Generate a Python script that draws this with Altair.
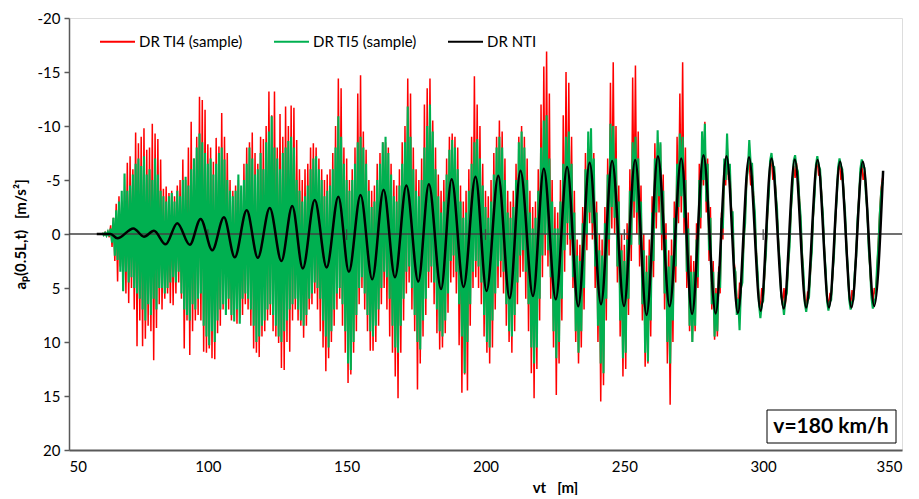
import altair as alt
import pandas as pd

# grid of the two sampled (noisy) series: vt = 62.0 + 0.5 * i  [m]
X0 = 62.0
STEP = 0.5

# DR TI5 (sample) - green
TI5 = [
    -0.1, 0.1, -0.1, 0.15, -0.2, 0.2,                                   # 62
    -0.5, 0.8, -1.5, 2.0, -2.2, 2.4, -3.0, 3.5, -4.0, 5.3, -5.6, 3.5, -4.0, 4.5,   # 65
    -4.5, 4.0, -5.5, 5.0, -6.5, 5.5, -7.0, 6.0, -6.3, 7.0, -7.2, 8.0, -5.5, 6.5, -6.0, 7.5,  # 72
    -5.0, 6.0, -7.0, 7.0, -5.5, 5.0, -4.0, 5.0, -3.5, 5.5, -3.0, 5.0, -3.5, 4.5, -3.8, 4.0, -3.0, 4.5, -4.0, 3.5,  # 80
    -3.5, 5.5, -5.0, 7.0, -5.3, 7.5, -4.5, 8.0, -6.0, 6.5, -7.0, 7.0, -8.0, 6.0, -9.3, 5.5, -8.5, 8.5, -7.5, 9.5,  # 90
    -6.5, 10.3, -7.0, 9.0, -5.5, 10.0, -6.5, 8.0, -7.5, 7.0, -8.0, 6.5, -6.9, 7.5, -5.0, 6.0, -4.0, 7.5, -3.5, 8.1,  # 100
    -4.0, 7.0, -5.5, 8.3, -4.5, 6.0, -5.0, 5.5, -6.5, 6.0, -8.0, 7.0, -7.0, 8.5, -5.5, 10.0, -6.0, 9.5, -7.5, 8.5,  # 110
    -6.0, 8.0, -8.5, 7.0, -9.5, 6.5, -10.9, 7.5, -8.0, 8.5, -7.0, 9.5, -6.0, 10.0, -7.5, 9.0, -8.0, 8.0, -8.6, 7.0,  # 120
    -9.0, 6.5, -8.0, 6.0, -5.0, 7.0, -4.0, 8.0, -3.0, 8.5, -3.5, 7.5, -4.5, 6.0, -6.0, 5.5, -7.0, 4.5, -7.2, 5.0,  # 130
    -6.0, 6.0, -5.0, 8.0, -3.5, 9.5, -4.0, 10.5, -4.5, 9.0, -6.0, 7.0, -8.0, 5.5, -10.9, 5.0, -9.0, 6.5,  # 140
    -6.5, 9.0, -5.0, 12.0, -4.0, 12.6, -5.0, 10.0, -6.5, 7.5, -8.5, 5.0, -9.0, 4.0, -8.0, 5.5, -6.5, 7.5,  # 149
    -4.0, 9.0, -2.5, 9.5, -3.0, 8.5, -5.0, 7.0, -6.5, 5.0, -8.5, 3.5, -9.0, 4.0, -7.5, 6.0, -5.5, 8.5, -3.5, 10.5, -3.0, 11.0, -4.5, 8.5,  # 158
    -6.5, 6.0, -8.5, 3.5, -11.8, 3.0, -9.0, 5.0, -6.0, 7.5, -4.0, 10.0, -3.5, 10.7, -5.0, 8.0, -8.0, 6.0, -10.0, 3.5,  # 170
    -12.0, 3.0, -9.5, 4.5, -6.0, 7.0, -3.5, 9.0, -2.0, 9.5, -3.0, 8.0, -5.5, 5.5, -7.8, 2.5, -8.7, 2.0,  # 180
    -8.0, 3.5, -6.0, 6.5, -3.0, 9.5, -1.5, 12.9, -2.0, 10.0, -4.0, 6.5, -6.5, 3.5, -8.5, 2.5, -8.8, 3.0,  # 189
    -7.0, 4.5, -4.5, 7.5, -2.5, 10.0, -1.5, 10.5, -3.0, 8.0, -5.5, 5.5, -8.0, 3.0, -9.0, 2.5, -8.0, 3.5, -5.0, 6.5,  # 198
    -2.0, 9.0, -1.5, 9.5, -2.5, 7.5, -5.0, 4.5, -8.5, 2.0, -9.5, 1.5, -8.0, 3.5, -5.0, 6.5,  # 208
    -2.0, 10.5, -0.5, 12.0, -1.5, 10.5, -4.0, 6.0, -8.0, 2.0, -10.5, 0.0, -11.0, 1.5, -7.0, 4.0,  # 216
    -3.0, 9.0, -0.5, 11.5, -0.5, 10.0, -3.0, 6.0, -6.5, 1.5, -9.0, -1.0, -9.5, 0.5, -6.5, 4.0,  # 224
    -2.0, 9.0, 2.0, 11.0, 2.5, 9.0, -1.0, 5.0, -6.0, 0.0, -9.5, -2.0, -9.8, -1.0, -7.0, 3.0,  # 232
    -2.0, 8.5, 1.5, 12.0, 2.0, 12.9, -1.0, 6.0, -5.5, 0.5, -10.2, -2.5, -10.0, -1.5, -7.0, 3.0,  # 240
    -3.0, 8.0, 1.5, 11.5, 2.5, 11.0, 0.5, 6.0, -4.0, 1.0, -8.5, -3.0, -9.0, -2.0, -7.0, 1.0,  # 248
    -3.0, 6.5, 1.5, 11.0, 3.5, 11.8, 2.0, 8.0, -2.0, 2.5, -7.0, -2.0, -9.6, -3.5, -8.5, 0.0,  # 256
    -4.0, 5.5, 0.5, 10.0, 3.0, 12.0, 2.0, 8.0, -1.5, 3.0, -6.5, -2.5, -9.3, -3.5, -9.0, -1.5,  # 264
    -5.0, 3.5, -0.5, 8.5, 3.5, 10.0, 3.5, 8.5, 0.5, 4.0, -5.0, -1.5, -9.5, -5.0, -10.2, -3.0,  # 272
    -6.5, 1.5, -1.5, 6.5, 3.5, 9.5, 5.5, 9.0, 3.5, 5.0, -1.5, -0.5, -7.0, -5.0, -9.3, -5.5, -6.5, -2.0,  # 280
    -2.0, 3.0, 3.5, 7.5, 6.0, 8.9, 5.0, 4.5, 0.5, -1.0, -5.0, -6.0, -8.7, -6.5, -6.5, -3.5,  # 289
    -2.0, 1.8, 3.5, 6.5, 7.8, 6.5, 6.2, 3.5, 1.8, -1.8, -3.5, -6.8, -7.5, -6.3, -6.2, -3.8,  # 297
    -2.3, 1.0, 2.7, 5.8, 6.3, 7.5, 6.0, 5.5, 2.8, 1.2, -2.2, -4.0, -6.8, -7.3, -6.2, -5.8,  # 305
    -3.2, -1.6, 1.8, 3.6, 6.4, 7.2, 6.2, 5.9, 3.3, 1.7, -1.7, -3.5, -6.4, -7.2, -6.3, -6.0,  # 313
    -3.5, -1.9, 1.5, 3.3, 6.2, 7.1, 6.3, 6.1, 3.6, 2.0, -1.5, -3.3, -6.2, -7.0, -6.3, -6.0,  # 321
    -3.6, -2.0, 1.4, 3.2, 6.1, 7.0, 6.3, 6.1, 3.6, 2.0, -1.4, -3.2, -6.0, -6.9, -6.2, -6.1,  # 329
    -3.7, -2.2, 1.3, 3.1, 5.9, 6.9, 6.3, 5.9, 3.1, 1.0, -1.8, -3.9, -4.8,  # 337
]

# DR TI4 (sample) - red
TI4 = [
    -0.1, 0.1, -0.15, 0.1, -0.2, 0.3,  # 62
    -0.8, 1.2, -1.5, 2.5, -2.8, 4.4, -3.5, 3.0, -3.0, 5.2, -4.0, 5.5, -6.6, 6.4,  # 65
    -7.2, 5.0, -6.0, 7.0, -9.4, 10.4, -8.4, 8.0, -9.0, 10.4, -9.8, 9.7, -7.8, 8.5, -8.0, 9.0,  # 72
    -10.2, 11.7, -9.3, 8.7, -8.8, 6.5, -6.9, 7.0, -4.2, 6.0, -4.4, 5.5, -3.8, 6.4, -4.0, 6.6, -3.5, 5.5, -4.5, 4.5,  # 80
    -5.0, 6.0, -6.9, 10.6, -5.0, 8.0, -8.0, 11.2, -10.4, 9.0, -7.0, 8.0, -9.0, 7.5, -12.7, 8.0, -12.4, 10.9, -11.5, 11.0,  # 90
    -8.3, 10.6, -8.0, 11.5, -6.7, 11.6, -8.9, 9.2, -8.1, 8.5, -11.2, 7.0, -9.0, 6.4, -7.5, 7.0, -5.0, 8.0, -4.0, 7.5,  # 100
    -4.5, 8.3, -5.0, 7.8, -4.0, 7.5, -6.5, 6.5, -8.0, 7.0, -8.5, 8.5, -9.4, 10.6, -7.5, 11.0, -6.5, 11.4, -9.0, 9.5,  # 110
    -8.8, 9.0, -10.0, 8.0, -13.2, 7.5, -11.0, 9.0, -13.2, 9.5, -8.0, 10.1, -11.1, 12.4, -9.0, 12.6, -11.8, 10.0, -10.0, 10.9,  # 120
    -11.9, 8.0, -11.7, 7.0, -8.7, 8.0, -6.0, 8.5, -5.0, 9.6, -6.0, 8.5, -6.5, 7.0, -8.0, 6.5, -8.4, 5.5, -8.0, 7.0,  # 130
    -7.0, 9.0, -6.0, 10.5, -5.0, 12.7, -5.5, 11.5, -6.0, 10.0, -7.5, 8.5, -10.0, 7.0, -14.4, 6.0, -13.5, 8.5,  # 140
    -8.0, 11.0, -7.0, 13.8, -5.0, 13.0, -6.0, 11.0, -8.0, 9.0, -13.0, 6.5, -14.7, 5.0, -9.5, 7.0, -7.8, 9.0,  # 149
    -5.0, 10.8, -4.0, 10.8, -4.5, 10.0, -6.5, 8.5, -7.5, 6.5, -8.5, 5.0, -8.5, 7.0, -8.0, 9.5, -6.5, 11.0, -5.0, 13.2, -4.5, 15.2, -6.0, 11.0,  # 158
    -8.5, 8.0, -10.0, 5.5, -14.4, 4.5, -13.0, 7.0, -8.0, 9.0, -6.0, 14.4, -5.0, 12.0, -7.0, 9.5, -12.0, 7.5, -13.5, 5.0,  # 170
    -14.4, 4.5, -10.5, 6.5, -8.0, 9.2, -5.5, 10.7, -4.0, 10.5, -5.0, 9.2, -7.0, 7.3, -9.0, 4.5, -9.3, 4.0,  # 180
    -9.0, 5.5, -8.0, 10.3, -4.5, 14.7, -3.0, 13.0, -4.0, 14.5, -6.0, 8.5, -9.0, 5.0, -14.6, 4.0, -12.0, 5.0,  # 189
    -10.0, 6.5, -6.5, 9.5, -4.0, 11.0, -3.5, 12.0, -5.0, 10.5, -7.5, 7.0, -9.0, 5.0, -10.5, 4.0, -9.5, 5.5, -7.0, 8.5,  # 198
    -4.0, 10.0, -3.0, 11.0, -4.0, 9.0, -6.5, 6.5, -9.0, 4.0, -10.0, 3.5, -9.0, 6.0, -7.0, 9.0,  # 208
    -4.0, 12.9, -2.5, 15.2, -3.0, 12.5, -6.0, 8.0, -12.0, 4.0, -15.5, 2.0, -16.9, 3.0, -13.0, 6.0,  # 216
    -5.0, 10.5, -2.5, 14.9, -2.0, 12.0, -5.0, 8.0, -11.0, 3.5, -15.0, 1.0, -14.0, 2.0, -9.0, 5.0,  # 224
    -4.0, 10.0, 0.5, 12.0, 1.0, 10.5, -2.5, 7.0, -7.5, 1.5, -8.5, -1.0, -8.0, 0.5, -7.5, 5.0,  # 232
    -3.0, 10.0, 0.0, 15.5, 0.5, 14.0, -2.5, 8.0, -7.0, 2.0, -14.0, -0.5, -15.9, 0.0, -10.0, 4.5,  # 240
    -4.5, 9.5, 0.0, 13.2, 1.0, 12.5, -1.0, 7.5, -6.0, 2.5, -14.5, -1.5, -15.6, 0.0, -9.5, 3.0,  # 248
    -4.5, 8.0, 0.0, 12.3, 2.0, 12.0, 0.5, 9.5, -3.5, 4.0, -8.4, -0.5, -8.0, -2.0, -8.3, 1.5,  # 256
    -5.5, 7.0, -1.0, 12.0, 1.5, 15.8, 0.5, 10.0, -3.0, 4.5, -9.0, -1.0, -13.0, -2.0, -15.9, 0.0,  # 264
    -8.0, 5.0, -2.0, 9.0, 2.0, 10.0, 2.5, 9.0, -1.0, 5.0, -6.5, -0.5, -9.0, -4.5, -10.4, -2.0,  # 272
    -7.0, 2.5, -2.5, 7.0, 2.5, 9.8, 5.0, 9.5, 3.0, 5.5, -2.0, 0.5, -6.5, -4.5, -8.5, -5.0, -6.0, -2.5,  # 280
    -1.5, 2.5, 3.5, 5.8, 7.2, 4.5, 5.5, 3.5, 1.0, -1.5, -4.5, -6.3, -6.5, -4.5, -5.8, -3.8,  # 289
    -1.4, 1.3, 4.0, 6.1, 6.8, 5.0, 5.9, 4.0, 1.5, -1.3, -4.0, -6.2, -6.8, -5.0, -5.9, -4.2,  # 297
    -1.9, 0.6, 3.1, 5.3, 6.6, 5.0, 6.5, 5.2, 3.2, 0.8, -1.8, -4.4, -6.3, -5.2, -6.6, -5.5,  # 305
    -3.6, -1.2, 1.4, 4.0, 6.0, 6.6, 5.4, 5.5, 3.7, 1.3, -1.3, -3.9, -6.0, -6.7, -5.4, -5.7,  # 313
    -3.9, -1.5, 1.1, 3.7, 5.8, 6.6, 5.6, 5.8, 4.0, 1.6, -1.1, -3.7, -5.8, -6.6, -5.0, -5.7,  # 321
    -4.0, -1.6, 1.0, 3.6, 5.7, 6.6, 5.2, 5.8, 4.0, 1.6, -1.0, -3.6, -5.6, -6.5, -5.0, -5.8,  # 329
    -4.1, -1.8, 0.9, 3.5, 5.6, 6.5, 5.0, 5.6, 3.4, 0.6, -2.2, -4.3, -5.2,  # 337
]

# DR NTI - turning points of the smooth reference response
NTI_X = [60, 65, 67.4, 73.2, 77.0, 80.6, 84.8, 89.0, 93.5, 97.4, 101.6, 105.8, 109.7, 114.0,
         118.0, 122.3, 126.5, 130.4, 134.2, 138.5, 142.8, 147.0, 150.8, 155.0, 159.2, 163.3,
         167.4, 171.5, 175.8, 179.6, 184.0, 187.8, 192.1, 196.4, 200.4, 204.6, 208.7, 212.6,
         217.1, 221.0, 225.3, 229.4, 233.4, 237.5, 241.6, 245.6, 249.9, 253.9, 258.0, 262.1,
         266.3, 270.5, 274.4, 278.5, 282.9, 286.8, 290.9, 294.9, 299.1, 303.0, 307.4, 311.4,
         315.5, 319.6, 323.7, 327.7, 331.8, 335.9, 340.0, 343.2]
NTI_Y = [0, 0, 0.4, -0.52, 0.25, -0.3, 0.96, -1.0, 1.0, -1.4, 1.5, -1.55, 2.16, -2.2,
         2.2, -2.4, 2.5, -2.6, 3.2, -3.15, 3.1, -3.46, 3.5, -3.6, 4.2, -4.1,
         4.0, -4.5, 4.4, -4.6, 5.1, -5.06, 4.9, -5.3, 5.28, -5.4, 5.96, -5.86,
         5.74, -6.05, 6.05, -6.2, 6.7, -6.6, 6.5, -6.76, 6.67, -6.85, 7.5, -7.2,
         6.7, -7.0, 7.4, -7.3, 7.35, -7.2, 7.3, -7.1, 7.1, -7.0, 6.9, -6.9,
         6.8, -6.85, 6.8, -6.7, 6.8, -6.7, 6.67, -5.86]

SERIES = ["DR TI4 (sample)", "DR TI5 (sample)", "DR NTI"]
COLORS = ["#FF0000", "#00B050", "#000000"]
X_TICKS = [50, 100, 150, 200, 250, 300, 350]
Y_TICKS = [-20, -15, -10, -5, 0, 5, 10, 15, 20]
AXIS_TICKS_ON_ZERO = [100, 150, 200, 250, 300]
LABEL = "v=180 km/h"

assert len(TI4) == len(TI5), (len(TI4), len(TI5))
assert len(NTI_X) == len(NTI_Y)

rows = []
for i, v in enumerate(TI4):
    rows.append({"vt": X0 + STEP * i, "a": v, "series": SERIES[0]})
for i, v in enumerate(TI5):
    rows.append({"vt": X0 + STEP * i, "a": v, "series": SERIES[1]})
for x, v in zip(NTI_X, NTI_Y):
    rows.append({"vt": x, "a": v, "series": SERIES[2]})
df = pd.DataFrame(rows)

FONT = "Lato"
xscale = alt.Scale(domain=[50, 350], nice=False, zero=False)
yscale = alt.Scale(domain=[-20, 20], nice=False, reverse=True)

xaxis = alt.Axis(values=X_TICKS, title="vt\u00a0\u00a0\u00a0[m]", grid=False, ticks=False,
                 labelFontSize=15, labelColor="#000000", labelPadding=9, labelFont=FONT,
                 titleFont=FONT, titleFontSize=15, titleFontWeight="bold", titleColor="#000000",
                 titlePadding=6, titleX=486, titleAlign="center",
                 domainColor="#595959", domainWidth=2)
yaxis = alt.Axis(values=Y_TICKS, title="a\u209a(0.5L,t)\u00a0\u00a0\u00a0[m/s\u00b2]", grid=False,
                 labelExpr="'' + datum.value", tickSize=5, tickColor="#595959", tickWidth=1.5,
                 labelFontSize=15, labelColor="#000000", labelPadding=4, labelFont=FONT,
                 titleFont=FONT, titleFontSize=15, titleFontWeight="bold", titleColor="#000000",
                 titlePadding=9, domainColor="#595959", domainWidth=1.5)

color = alt.Color("series:N", scale=alt.Scale(domain=SERIES, range=COLORS),
                  legend=alt.Legend(title=None, orient="none", direction="horizontal",
                                    legendX=30, legendY=5, symbolType="stroke",
                                    symbolSize=1225, symbolStrokeWidth=2,
                                    labelFont=FONT, labelFontSize=15, labelColor="#000000",
                                    labelOffset=3, columnPadding=27))

base = alt.Chart(df).encode(
    x=alt.X("vt:Q", scale=xscale, axis=xaxis),
    y=alt.Y("a:Q", scale=yscale, axis=yaxis),
    color=color,
)

red = base.transform_filter(alt.datum.series == SERIES[0]).mark_line(strokeWidth=1.5)
green = base.transform_filter(alt.datum.series == SERIES[1]).mark_line(strokeWidth=2.1)
black = base.transform_filter(alt.datum.series == SERIES[2]).mark_line(strokeWidth=2.5,
                                                                     interpolate="monotone")

zero_df = pd.DataFrame({"a": [0]})
zero_line = alt.Chart(zero_df).mark_rule(color="#404040", strokeWidth=1.5).encode(
    y=alt.Y("a:Q", scale=yscale, axis=yaxis))

tick_df = pd.DataFrame({"vt": AXIS_TICKS_ON_ZERO, "a": [-0.45] * 5, "a2": [0.55] * 5})
zero_ticks = alt.Chart(tick_df).mark_rule(color="#404040", strokeWidth=1.2).encode(
    x=alt.X("vt:Q", scale=xscale, axis=xaxis),
    y=alt.Y("a:Q", scale=yscale, axis=yaxis), y2="a2:Q")

lab_df = pd.DataFrame({"t": [LABEL]})
box = alt.Chart(lab_df).mark_rect(fill="white", stroke="#000000", strokeWidth=1).encode(
    x=alt.value(698), x2=alt.value(827), y=alt.value(392), y2=alt.value(425))
txt = alt.Chart(lab_df).mark_text(font=FONT, fontSize=21, fontWeight="bold", color="#000000",
                                  align="center", baseline="middle").encode(
    x=alt.value(762), y=alt.value(409), text="t:N")

chart = alt.layer(red, green, zero_line, zero_ticks, black, box, txt).properties(
    width=833, height=432,
    padding={"left": 5, "top": 3, "right": 0, "bottom": 0},
).configure_view(stroke="#404040", strokeWidth=1).configure(background="white")

chart.save("out.html", embed_options={"renderer": "svg", "actions": False})
